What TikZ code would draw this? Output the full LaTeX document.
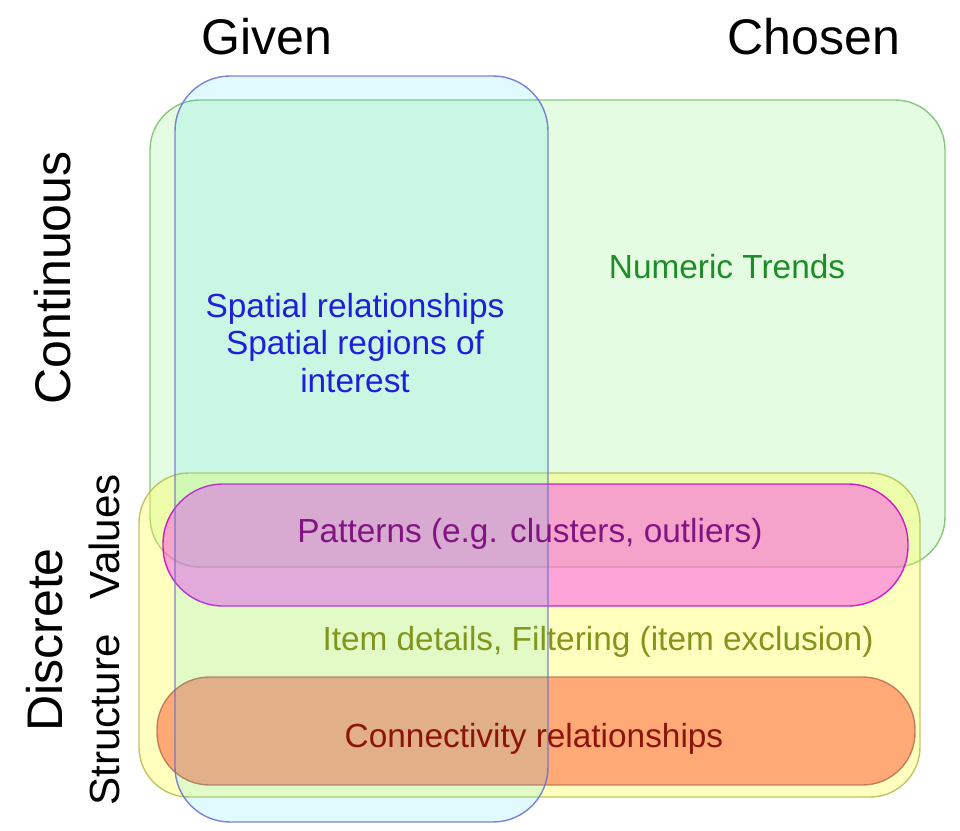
\documentclass[tikz,border=0pt]{standalone}
\usepackage{fontspec}
\setmainfont{Liberation Sans}
\definecolor{contfill}{RGB}{120,240,105}
\definecolor{contline}{RGB}{120,190,110}
\definecolor{discfill}{RGB}{255,255,69}
\definecolor{discline}{RGB}{180,190,80}
\definecolor{patfill}{RGB}{255,55,245}
\definecolor{patline}{RGB}{200,0,200}
\definecolor{confill}{RGB}{255,85,50}
\definecolor{conline}{RGB}{190,110,80}
\definecolor{givfill}{RGB}{24,217,255}
\definecolor{givline}{RGB}{100,110,205}
\definecolor{spattext}{RGB}{30,30,220}
\definecolor{numtext}{RGB}{30,140,40}
\definecolor{pattext}{RGB}{130,20,130}
\definecolor{itemtext}{RGB}{130,150,30}
\definecolor{context}{RGB}{140,20,10}

\begin{document}
\begin{tikzpicture}[x=0.02cm, y=-0.02cm,
		box/.style={line width=0.8pt, draw opacity=0.85},
		head/.style={font=\fontsize{28.5}{34}\selectfont, anchor=base},
		side/.style={font=\fontsize{28.5}{34}\selectfont, anchor=base, rotate=90},
		sub/.style={font=\fontsize{24}{28}\selectfont, anchor=base, rotate=90},
		label/.style={font=\fontsize{19}{21.3}\selectfont, anchor=base}]
			%%%%% START %%%%%
			
			\useasboundingbox[fill=white] (0, 0) rectangle (960, 831);
			
			% continuous / discrete areas
			\draw[box, draw=contline, fill=contfill, fill opacity=0.2, rounded corners=1cm] (150, 100) rectangle (945, 567);
			\draw[box, draw=discline, fill=discfill, fill opacity=0.35, rounded corners=1cm] (139, 473) rectangle (920, 797);
			
			% bands inside discrete
			\draw[box, draw=patline, fill=patfill, fill opacity=0.45, rounded corners=1.2cm] (163, 484) rectangle (908, 606);
			\draw[box, draw=conline, fill=confill, fill opacity=0.5, rounded corners=1.05cm] (157, 677) rectangle (915, 785);
			
			% given column
			\draw[box, draw=givline, fill=givfill, fill opacity=0.13, rounded corners=1.1cm] (175, 76) rectangle (548, 822);
			
			\node[head] (given) at (267, 55) {Given};
			\node[head] (chosen) at (814, 55) {Chosen};
			
			\node[side] (cont) at (70, 278) {Continuous};
			\node[side] (disc) at (62, 640) {Discrete};
			\node[sub] (values) at (119, 537) {Values};
			\node[sub] (struct) at (119, 720) {Structure};
			
			\node[label, anchor=center, align=center, text=spattext] (spatial) at (355, 343) {Spatial relationships\\Spatial regions of\\interest};
			\node[label, text=numtext] (trends) at (727, 278) {Numeric Trends};
			\node[label, text=pattext] (patterns) at (530, 542) {Patterns (e.g. clusters, outliers)};
			\node[label, text=itemtext] (items) at (598, 650) {Item details, Filtering (item exclusion)};
			\node[label, text=context] (connect) at (534, 747) {Connectivity relationships};
			
			%%%%% END %%%%%
		\end{tikzpicture}
\end{document}
